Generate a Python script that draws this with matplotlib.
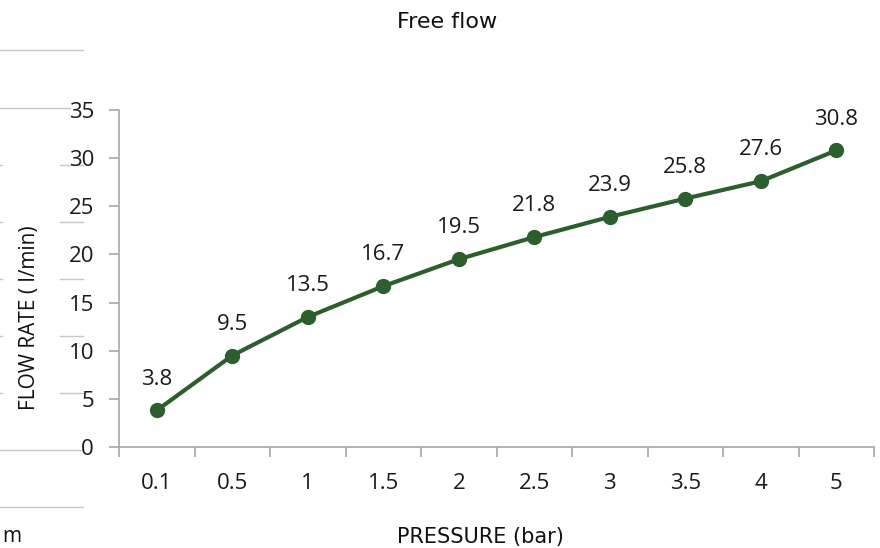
import matplotlib
matplotlib.use("Agg")
import matplotlib.pyplot as plt
from matplotlib.lines import Line2D

pressure = ["0.1", "0.5", "1", "1.5", "2", "2.5", "3", "3.5", "4", "5"]
flow = [3.8, 9.5, 13.5, 16.7, 19.5, 21.8, 23.9, 25.8, 27.6, 30.8]
yticks = [0, 5, 10, 15, 20, 25, 30, 35]

plt.rcParams['font.family'] = ['Open Sans', 'DejaVu Sans']
W, H = 880, 548
fig = plt.figure(figsize=(W / 100, H / 100), dpi=100)
ax = fig.add_axes([119 / W, 1 - 447 / H, (874 - 119) / W, (447 - 110) / H])

green = '#2C5F2D'
axis_c = '#A6A6A6'
txt = '#1A1A1A'
x = list(range(len(pressure)))
ax.plot(x, flow, color=green, lw=3, marker='o', markersize=10, zorder=3)
for xi, v in zip(x, flow):
    ax.annotate(f"{v}", (xi, v), xytext=(0, 15), textcoords='offset points',
                ha='center', va='bottom', fontsize=16, color=txt)

ax.set_xlim(-0.5, len(pressure) - 0.5)
ax.set_ylim(0, 35)
ax.set_yticks(yticks)
ax.set_yticklabels([str(t) for t in yticks], fontsize=16, color=txt)
ax.set_xticks(x)
ax.set_xticklabels(pressure, fontsize=16, color=txt)
ax.tick_params(axis='x', length=0, pad=19)
ax.set_xticks([i - 0.5 for i in range(len(pressure) + 1)], minor=True)
ax.tick_params(axis='x', which='minor', length=7, color=axis_c, width=1.2)
ax.tick_params(axis='y', length=7, color=axis_c, width=1.2, pad=11)
for s in ['top', 'right']:
    ax.spines[s].set_visible(False)
for s in ['left', 'bottom']:
    ax.spines[s].set_color(axis_c)
    ax.spines[s].set_linewidth(1.2)

fig.text(447 / W, 1 - 22 / H, "Free flow", ha='center', va='center', fontsize=16,
         family='DejaVu Sans', color='#111111')
fig.text(30 / W, 1 - 318 / H, "FLOW RATE ( l/min)", rotation=90, ha='center', va='center',
         fontsize=15, color='#111111')
fig.text(480 / W, 1 - 537 / H, "PRESSURE (bar)", ha='center', va='center', fontsize=15,
         family='DejaVu Sans', color='#111111')
fig.text(2 / W, 1 - 536 / H, "m", ha='left', va='center', fontsize=15, color='#111111')

ghost = '#C8C8C8'
def hline(y, x0, x1):
    fig.add_artist(Line2D([x0 / W, x1 / W], [1 - y / H, 1 - y / H], color=ghost, lw=1,
                          transform=fig.transFigure, zorder=0))
hline(50, 0, 83)
hline(108, 0, 70)
for yy in [165, 222, 279, 336, 393]:
    hline(yy, 60, 83)
    hline(yy, 0, 2)
hline(450, 0, 83)
hline(507, 0, 83)

fig.savefig("out.png", dpi=100)
